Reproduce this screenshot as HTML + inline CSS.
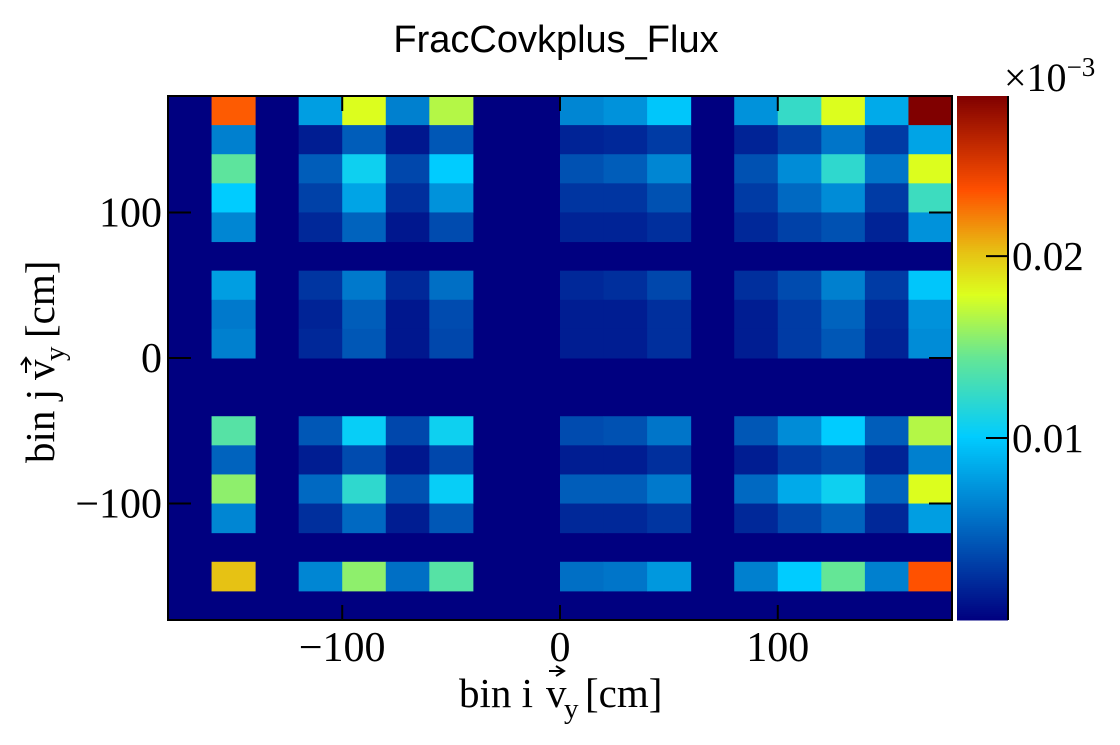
<!DOCTYPE html>
<html><head><meta charset="utf-8"><style>
body{margin:0;background:#fff;}
svg text{font-family:"Liberation Serif",serif;}
</style></head><body>
<svg id="c" width="1120" height="740" viewBox="0 0 1120 740">
<text x="556" y="52" text-anchor="middle" font-size="38" style="font-family:'Liberation Sans',sans-serif">FracCovkplus_Flux</text>
<g id="plot"></g>
</svg>
<script>
const xCenters = [-150,-110,-90,-70,-50,10,30,50,90,110,130,150,170];
const yCenters = [170,150,130,110,90,50,30,10,-50,-70,-90,-110,-150];
const zRow170 = [23.3,7.8,17.9,6.3,16.7,6.6,7.2,9.8,7.2,12.4,17.9,8.4,28.8];
const zRow150 = [6.3,1.44,4.6,1.15,4.3,1.73,2.0,2.9,1.73,3.2,5.8,2.9,8.1];
const zRow130 = [14.1,4.6,10.7,3.5,10.1,4.0,4.6,6.6,4.0,6.9,12.1,5.8,17.9];
const zRow110 = [10.1,3.2,8.1,2.3,7.2,2.6,2.6,4.0,2.9,5.2,6.9,2.9,12.7];
const zRow90 = [6.6,2.0,4.9,1.15,3.7,1.73,1.73,2.3,2.0,3.2,4.0,1.73,7.2];
const zRow50 = [7.8,2.6,6.0,2.0,5.5,2.0,2.3,3.5,2.3,3.7,6.3,2.9,9.8];
const zRow30 = [6.0,1.73,4.6,1.15,3.7,1.44,1.44,2.3,1.44,2.9,4.9,2.0,7.2];
const zRow10 = [6.3,2.0,4.3,1.15,3.5,1.44,1.44,2.3,1.44,2.9,4.3,1.73,6.9];
const zRowM50 = [13.8,4.3,10.4,3.5,10.7,3.7,4.0,5.8,4.3,6.9,10.1,4.6,16.7];
const zRowM70 = [4.9,1.44,3.7,1.15,3.5,1.44,1.44,2.3,1.44,2.9,3.7,1.73,6.3];
const zRowM90 = [15.6,5.2,12.1,4.0,10.4,4.6,4.6,6.0,5.2,8.4,10.7,4.9,17.9];
const zRowM110 = [6.6,2.3,5.2,1.44,4.3,2.0,2.0,2.6,2.0,3.5,4.9,2.0,7.8];
const zRowM150 = [20.2,6.6,15.6,5.5,13.8,5.5,5.8,7.5,6.3,10.1,14.4,6.3,23.6];
const zRows = [zRow170,zRow150,zRow130,zRow110,zRow90,zRow50,zRow30,zRow10,zRowM50,zRowM70,zRowM90,zRowM110,zRowM150];
const xTicks = [-100,0,100];
const yTicks = [100,0,-100];
const zTicks = [10,20];
const zTickLabels = ["0.01","0.02"];

const X0=168,X1=952,Y0=96,Y1=620,XMIN=-180,XMAX=180,YMIN=-180,YMAX=180,ZMIN=0,ZMAX=28.8,BIN=20;
const sx=v=>X0+(v-XMIN)/(XMAX-XMIN)*(X1-X0);
const sy=v=>Y1-(v-YMIN)/(YMAX-YMIN)*(Y1-Y0);
const stops=[[0,[0,0,128]],[0.35,[0,204,255]],[0.5,[100,230,150]],[0.62,[220,255,30]],[0.7,[230,195,20]],[0.82,[255,80,0]],[1,[128,0,0]]];
function col(z){let f=Math.max(0,Math.min(1,(z-ZMIN)/(ZMAX-ZMIN)));
 for(let i=1;i<stops.length;i++){if(f<=stops[i][0]){const a=stops[i-1],b=stops[i],t=(f-a[0])/(b[0]-a[0]);
 return 'rgb('+a[1].map((c,k)=>Math.round(c+(b[1][k]-c)*t)).join(',')+')';}}return 'rgb(128,0,0)';}
const NS='http://www.w3.org/2000/svg',g=document.getElementById('plot');
function mk(t,a){const e=document.createElementNS(NS,t);for(const k in a)e.setAttribute(k,a[k]);g.appendChild(e);return e;}
let bg=mk('rect',{x:X0,y:Y0,width:X1-X0,height:Y1-Y0,fill:'rgb(0,0,128)'});


yCenters.forEach((yc,r)=>{xCenters.forEach((xc,c)=>{
 const e=mk('rect',{x:sx(xc-BIN/2),y:sy(yc+BIN/2),width:sx(xc+BIN/2)-sx(xc-BIN/2)+0.5,height:sy(yc-BIN/2)-sy(yc+BIN/2)+0.5,fill:col(zRows[r][c])});
 
 
});});
let fr=mk('rect',{x:X0,y:Y0,width:X1-X0,height:Y1-Y0,fill:'none',stroke:'#000','stroke-width':2});


xTicks.forEach(v=>{const x=sx(v);
 mk('line',{x1:x,x2:x,y1:Y1,y2:Y1-15,stroke:'#000','stroke-width':2});
 mk('line',{x1:x,x2:x,y1:Y0,y2:Y0+15,stroke:'#000','stroke-width':2});
 const t=mk('text',{x:x,y:661,'text-anchor':'middle','font-size':42});t.textContent=(v<0?'\u2212':'')+Math.abs(v);
 
 
});
yTicks.forEach(v=>{const y=sy(v);
 mk('line',{x1:X0,x2:X0+23,y1:y,y2:y,stroke:'#000','stroke-width':2});
 mk('line',{x1:X1,x2:X1-23,y1:y,y2:y,stroke:'#000','stroke-width':2});
 const t=mk('text',{x:162,y:y+14,'text-anchor':'end','font-size':42});t.textContent=(v<0?'\u2212':'')+Math.abs(v);
 
 
});
const CB0=957,CB1=1008;
for(let i=0;i<Y1-Y0;i+=2){const z=ZMIN+(Y1-i-1-Y0)/(Y1-Y0)*(ZMAX-ZMIN);
 const e=mk('rect',{x:CB0,y:Y0+i,width:CB1-CB0,height:2.5,fill:col(z)});
 
 }
mk('line',{x1:CB1,x2:CB1,y1:Y0,y2:Y1,stroke:'#000','stroke-width':2});
const szz=z=>Y1-(z-ZMIN)/(ZMAX-ZMIN)*(Y1-Y0);
zTicks.forEach((z,i)=>{const y=szz(z);
 mk('line',{x1:CB1-22,x2:CB1,y1:y,y2:y,stroke:'#000','stroke-width':2});
 const t=mk('text',{x:1012,y:y+14,'font-size':41});t.textContent=zTickLabels[i];
 
 
});
const ex=mk('text',{x:1004,y:91,'font-size':40});ex.innerHTML='\u00d710<tspan dy="-15" font-size="27">\u22123</tspan>';


const xg=document.createElementNS(NS,'g');g.appendChild(xg);


xg.innerHTML='<text x="459" y="707" font-size="41">bin i</text><text x="546" y="707" font-size="41">v</text><text x="564" y="718" font-size="29">y</text><text x="585" y="707" font-size="41">[cm]</text><path d="M549 671 L564 671 M556 666 L564 671 L556 676" stroke="#000" stroke-width="2" fill="none"/>';
const yg=document.createElementNS(NS,'g');yg.setAttribute('transform','translate(54,463) rotate(-90)');g.appendChild(yg);


yg.innerHTML='<text x="0" y="0" font-size="41">bin j</text><text x="83" y="0" font-size="41">v</text><text x="102" y="10" font-size="29">y</text><text x="125" y="0" font-size="41">[cm]</text><path d="M90 -28 L105 -28 M98 -33 L105 -28 L98 -23" stroke="#000" stroke-width="2" fill="none"/>';
</script>
</body></html>
